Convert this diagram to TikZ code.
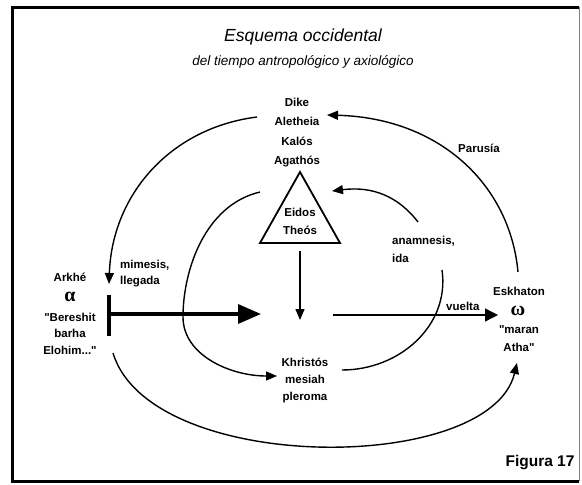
\documentclass[tikz,border=0pt]{standalone}
\usepackage{fontspec}
\setmainfont{Liberation Sans}
\newfontfamily\grk{Liberation Serif}
\usetikzlibrary{arrows.meta}
\begin{document}
\begin{tikzpicture}[x=1pt,y=-1pt,
  lbl/.style={font=\fontsize{11.5}{16.5}\selectfont\bfseries, align=center, inner sep=0pt},
  lbll/.style={font=\fontsize{11.5}{16}\selectfont\bfseries, align=left, inner sep=0pt, anchor=west},
  greek/.style={font=\fontsize{20}{20}\selectfont\grk\bfseries, inner sep=0pt, text height=8pt, text depth=0pt},
  conn/.style={line width=1.4pt, -{Triangle[length=11pt,width=9pt]}},
  plain/.style={line width=1.4pt}
]
\useasboundingbox (0,0) rectangle (582,485);
\fill[white] (0,0) rectangle (582,485);
% frame
\draw[line width=3pt] (579,7) -- (12,7) -- (12,481) -- (579,481);
\draw[line width=1pt, black!50] (579,7) -- (579,481);
% title
\node[inner sep=0pt, font=\fontsize{17.5}{17.5}\selectfont\itshape] (t1) at (303,37) {Esquema occidental};
\node[inner sep=0pt, font=\fontsize{13.5}{13.5}\selectfont\itshape] (t2) at (303,62) {del tiempo antropológico y axiológico};
% nodes
\node[lbl, font=\fontsize{11.5}{19.5}\selectfont\bfseries] (dike) at (297,132.5) {Dike\\Aletheia\\Kalós\\Agathós};
\draw[line width=1.8pt, line join=miter] (300,172) -- (340,243) -- (260,243) -- cycle;
\coordinate (triapex) at (300,172);
\coordinate (tribase) at (300,251);
\node[lbl, font=\fontsize{11.5}{18}\selectfont\bfseries] (eidos) at (300,221) {Eidos\\Theós};
\node[lbl, font=\fontsize{11.5}{17}\selectfont\bfseries] (khristos) at (305,380) {Khristós\\mesiah\\pleroma};
\node[lbl] (arkhe) at (70,277) {Arkhé};
\node[greek] (alpha) at (70,297) {α};
\node[lbl, font=\fontsize{11.5}{16.5}\selectfont\bfseries] (bereshit) at (70,333.5) {\textquotedbl Bereshit\\barha\\Elohim...\textquotedbl};
\node[lbl] (eskhaton) at (519,291) {Eskhaton};
\node[greek] (omega) at (518,311) {ω};
\node[lbl, font=\fontsize{11.5}{18}\selectfont\bfseries] (maran) at (519,339) {\textquotedbl maran\\Atha\textquotedbl};
\node[lbll] (mimesis) at (120,274) {mimesis,\\llegada};
\node[lbll, font=\fontsize{11.5}{18}\selectfont\bfseries] (anamnesis) at (392,249) {anamnesis,\\ida};
\node[lbl] (parusia) at (479,148) {Parusía};
\node[lbll] (vuelta) at (446,306) {vuelta};
\node[inner sep=0pt, font=\fontsize{15.5}{15.5}\selectfont\bfseries] (figura) at (540,463) {Figura 17};
% coordinates for connector ends
\coordinate (c1s) at (257,117);
\coordinate (c1e) at (109,284);
\coordinate (c2s) at (518,272);
\coordinate (c2e) at (327,115);
\coordinate (c3s) at (418,222);
\coordinate (c3e) at (332,191);
\coordinate (c4s) at (260,192);
\coordinate (c4e) at (277,376);
\coordinate (c5s) at (442,270);
\coordinate (c5e) at (342,370);
\coordinate (c6s) at (113,353);
\coordinate (c6e) at (517,363);
\coordinate (bartop) at (109,295);
\coordinate (barbot) at (109,336);
\coordinate (barmid) at (109,314);
\coordinate (thickend) at (261,314);
\coordinate (vstart) at (333,315);
\coordinate (vend) at (498,315);
\coordinate (downend) at (300,320);
% connectors
\draw[conn] (c1s) .. controls (170,128) and (112,195) .. (c1e);
\draw[conn] (c2s) .. controls (510,185) and (440,118) .. (c2e);
\draw[conn] (c3s) .. controls (398,196) and (372,186) .. (c3e);
\draw[conn] (c4s) .. controls (205,205) and (183,270) .. (183,317) .. controls (183,355) and (230,376) .. (c4e);
\draw[plain] (c5s) .. controls (450,325) and (400,370) .. (c5e);
\draw[conn] (c6s) .. controls (150,475) and (490,475) .. (c6e);
\draw[line width=3.5pt] (bartop) -- (barbot);
\draw[line width=3.5pt, -{Triangle[length=23pt,width=19pt]}] (barmid) -- (thickend);
\draw[line width=1.3pt, -{Triangle[length=13pt,width=13pt]}] (vstart) -- (vend);
\draw[conn] (tribase) -- (downend);
\end{tikzpicture}
\end{document}
